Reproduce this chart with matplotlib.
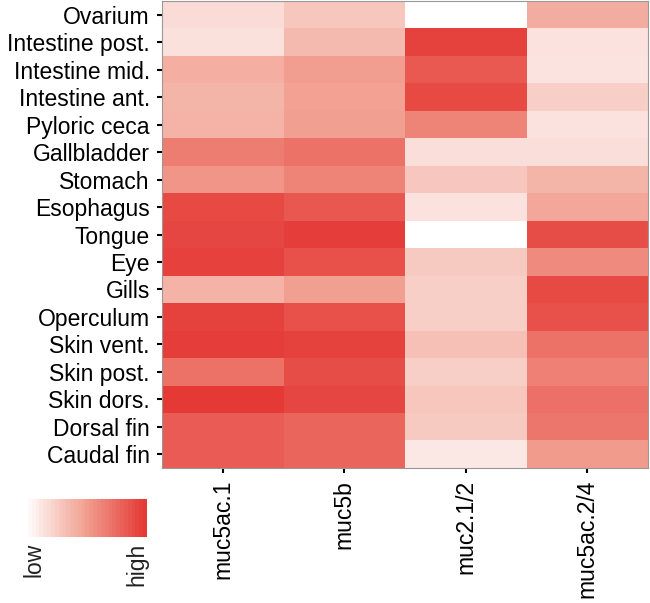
import matplotlib
matplotlib.use("Agg")
import matplotlib.pyplot as plt
import numpy as np
from matplotlib.colors import LinearSegmentedColormap

plt.rcParams["font.family"] = ["Liberation Sans", "DejaVu Sans"]

tissues = ["Ovarium", "Intestine post.", "Intestine mid.", "Intestine ant.",
           "Pyloric ceca", "Gallbladder", "Stomach", "Esophagus", "Tongue",
           "Eye", "Gills", "Operculum", "Skin vent.", "Skin post.",
           "Skin dors.", "Dorsal fin", "Caudal fin"]
genes = ["muc5ac.1", "muc5b", "muc2.1/2", "muc5ac.2/4"]

# relative expression (0 = low, 1 = high), one list per gene
muc5ac_1 = [0.19, 0.16, 0.42, 0.39, 0.40, 0.67, 0.55, 0.92, 0.93,
            0.96, 0.40, 0.95, 0.97, 0.72, 1.00, 0.83, 0.83]
muc5b = [0.30, 0.36, 0.51, 0.49, 0.50, 0.72, 0.64, 0.85, 0.97,
         0.88, 0.50, 0.88, 0.95, 0.90, 0.93, 0.78, 0.78]
muc2_12 = [0.00, 0.95, 0.84, 0.92, 0.64, 0.17, 0.29, 0.15, 0.00,
           0.28, 0.25, 0.25, 0.33, 0.25, 0.30, 0.28, 0.12]
muc5ac_24 = [0.43, 0.15, 0.14, 0.25, 0.15, 0.17, 0.39, 0.46, 0.90,
             0.60, 0.92, 0.88, 0.72, 0.65, 0.73, 0.70, 0.52]

data = np.column_stack([muc5ac_1, muc5b, muc2_12, muc5ac_24])
cmap = LinearSegmentedColormap.from_list(
    "wr", [(0.0, "#FFFFFF"), (0.5, "#F2A091"), (1.0, "#E53935")])

fig = plt.figure(figsize=(6.5, 6.03), dpi=100)
ax = fig.add_axes([0.249, 0.224, 0.748, 0.774])
ax.imshow(data, cmap=cmap, vmin=0, vmax=1, aspect="auto",
          interpolation="nearest")
ax.set_yticks(np.arange(len(tissues)))
ax.set_yticklabels(tissues, fontsize=16.5)
ax.set_xticks(np.arange(len(genes)))
ax.set_xticklabels(genes, fontsize=16.5, rotation=90, va="top")
ax.tick_params(length=3.6, width=1.5, color="black", pad=5)
for s in ax.spines.values():
    s.set_color("#999999")
    s.set_linewidth(0.8)

# legend bar
cax = fig.add_axes([0.037, 0.109, 0.189, 0.064])
grad = np.linspace(0, 1, 32).reshape(1, -1)
cax.imshow(grad, cmap=cmap, aspect="auto", vmin=0, vmax=1,
           interpolation="nearest")
cax.axis("off")
fig.text(34 / 650, 1 - 543 / 603, "low", rotation=90, ha="center", va="top",
         fontsize=16.5, color="#222222")
fig.text(137 / 650, 1 - 543 / 603, "high", rotation=90, ha="center", va="top",
         fontsize=16.5, color="#222222")

fig.savefig("out.png", dpi=100)
plt.close(fig)
